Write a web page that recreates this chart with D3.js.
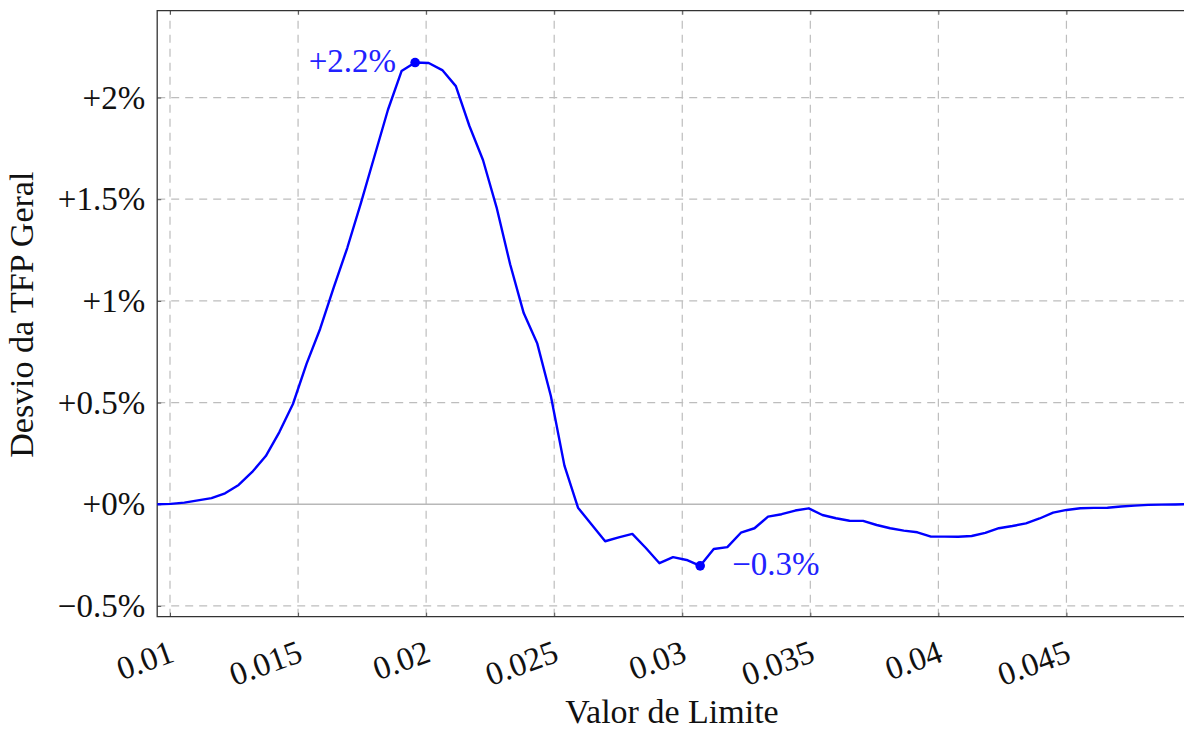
<!DOCTYPE html>
<html>
<head>
<meta charset="utf-8">
<script src="https://cdn.jsdelivr.net/npm/d3@7"></script>
<style>
  body { margin: 0; background: #fff; }
  svg { display: block; }
</style>
</head>
<body>
<svg width="1184" height="731"></svg>
<script>
// threshold values (x) and TFP deviation in % (y)
var limite = [0.0095, 0.01003, 0.01056, 0.01109, 0.01162, 0.01215, 0.01268, 0.01321, 0.01374, 0.01427,
    0.0148, 0.01533, 0.01586, 0.01639, 0.01692, 0.01745, 0.01798, 0.01851, 0.01904, 0.01957,
    0.0201, 0.02063, 0.02116, 0.02169, 0.02222, 0.02275, 0.02328, 0.02381, 0.02434, 0.02487,
    0.0254, 0.02593, 0.02646, 0.02699, 0.02752, 0.02805, 0.02858, 0.02911, 0.02964, 0.03017,
    0.0307, 0.03123, 0.03176, 0.03229, 0.03282, 0.03335, 0.03388, 0.03441, 0.03494, 0.03547,
    0.036, 0.03653, 0.03706, 0.03759, 0.03812, 0.03865, 0.03918, 0.03971, 0.04024, 0.04077,
    0.0413, 0.04183, 0.04236, 0.04289, 0.04342, 0.04395, 0.04448, 0.04501, 0.04554, 0.04607,
    0.0466, 0.04713, 0.04766, 0.04819, 0.04872, 0.04925, 0.04978];

var desvio = [0.000, 0.002, 0.008, 0.019, 0.030, 0.054, 0.095, 0.159, 0.237, 0.355,
    0.493, 0.690, 0.862, 1.065, 1.260, 1.480, 1.710, 1.940, 2.130, 2.172,
    2.170, 2.135, 2.056, 1.860, 1.693, 1.460, 1.180, 0.940, 0.790, 0.532,
    0.190, -0.017, -0.100, -0.182, -0.163, -0.146, -0.215, -0.290, -0.260, -0.274,
    -0.303, -0.220, -0.211, -0.140, -0.118, -0.061, -0.049, -0.031, -0.020, -0.053,
    -0.069, -0.081, -0.082, -0.102, -0.118, -0.130, -0.138, -0.159, -0.159, -0.160,
    -0.156, -0.141, -0.118, -0.107, -0.094, -0.070, -0.041, -0.028, -0.020, -0.018,
    -0.017, -0.011, -0.007, -0.003, -0.002, -0.001, 0.000];

var xTicks = [0.01, 0.015, 0.02, 0.025, 0.03, 0.035, 0.04, 0.045];
var xTickLabels = ["0.01", "0.015", "0.02", "0.025", "0.03", "0.035", "0.04", "0.045"];
var yTicks = [-0.5, 0, 0.5, 1, 1.5, 2];
var yTickLabels = ["\u22120.5%", "+0%", "+0.5%", "+1%", "+1.5%", "+2%"];

// marked points: [x, y, label]
var marcas = [
    [0.01957, 2.172, "+2.2%"],
    [0.0307, -0.303, "\u22120.3%"]
];

var svg = d3.select("svg");

// plot box (note: "top" is a reserved window property, so p-prefixed names)
var pLeft = 157.2, pRight = 1184, pTop = 10.7, pBottom = 616.7;
var font = "'Liberation Serif', 'DejaVu Serif', serif";
var fs = 33;

var x = d3.scaleLinear()
    .domain([0.0095, 0.04959])
    .range([pLeft, pRight]);

var y = d3.scaleLinear()
    .domain([-0.553, 2.427])
    .range([pBottom, pTop]);

svg.append("defs").append("clipPath")
    .attr("id", "clip")
    .append("rect")
    .attr("x", pLeft)
    .attr("y", pTop)
    .attr("width", pRight - pLeft)
    .attr("height", pBottom - pTop);

// grid
var grid = svg.append("g")
    .attr("stroke", "#bdbdbd")
    .attr("stroke-width", 1.2)
    .attr("stroke-dasharray", "8,6");

grid.selectAll(".vg")
    .data(xTicks)
    .enter().append("line")
    .attr("x1", function(d) { return x(d); })
    .attr("x2", function(d) { return x(d); })
    .attr("y1", pBottom)
    .attr("y2", pTop);

grid.selectAll(".hg")
    .data(yTicks.filter(function(d) { return d !== 0; }))
    .enter().append("line")
    .attr("x1", pLeft)
    .attr("x2", pRight)
    .attr("y1", function(d) { return y(d); })
    .attr("y2", function(d) { return y(d); });

// zero line
svg.append("line")
    .attr("x1", pLeft)
    .attr("x2", pRight)
    .attr("y1", y(0))
    .attr("y2", y(0))
    .attr("stroke", "#b8b8b8")
    .attr("stroke-width", 1.3);

// axes
var xAxis = d3.axisBottom(x)
    .tickValues(xTicks)
    .tickSize(-4)
    .tickFormat(function(d, i) { return xTickLabels[i]; });

var gx = svg.append("g")
    .attr("transform", "translate(0," + pBottom + ")")
    .attr("font-family", font)
    .call(xAxis);

gx.select(".domain").remove();
gx.selectAll(".tick line").attr("stroke", "#555");
gx.selectAll(".tick text")
    .attr("font-family", font)
    .attr("font-size", fs)
    .attr("fill", "#111")
    .attr("text-anchor", "end")
    .attr("dy", null)
    .attr("y", null)
    .attr("dominant-baseline", "middle")
    .attr("transform", "translate(3,37) rotate(-20)");

var gxTop = svg.append("g")
    .attr("transform", "translate(0," + pTop + ")")
    .call(d3.axisTop(x).tickValues(xTicks).tickSize(-4).tickFormat(""));
gxTop.select(".domain").remove();
gxTop.selectAll(".tick line").attr("stroke", "#555");

var yAxis = d3.axisLeft(y)
    .tickValues(yTicks)
    .tickSize(-4)
    .tickFormat(function(d, i) { return yTickLabels[i]; });

var gy = svg.append("g")
    .attr("transform", "translate(" + pLeft + ",0)")
    .attr("font-family", font)
    .call(yAxis);

gy.select(".domain").remove();
gy.selectAll(".tick line").attr("stroke", "#555");
gy.selectAll(".tick text")
    .attr("font-family", font)
    .attr("font-size", fs)
    .attr("fill", "#111")
    .attr("x", -12);

// frame: left, bottom, top
svg.append("path")
    .attr("d", "M" + pRight + "," + pTop + "H" + pLeft + "V" + pBottom + "H" + pRight)
    .attr("fill", "none")
    .attr("stroke", "#333")
    .attr("stroke-width", 1.3);

// the curve
var line = d3.line()
    .x(function(d) { return x(d[0]); })
    .y(function(d) { return y(d[1]); });

svg.append("path")
    .datum(d3.zip(limite, desvio))
    .attr("clip-path", "url(#clip)")
    .attr("d", line)
    .attr("fill", "none")
    .attr("stroke", "#0000ff")
    .attr("stroke-width", 2.4)
    .attr("stroke-linejoin", "round");

// marked extremes
svg.selectAll(".marca")
    .data(marcas)
    .enter().append("circle")
    .attr("cx", function(d) { return x(d[0]); })
    .attr("cy", function(d) { return y(d[1]); })
    .attr("r", 4.8)
    .attr("fill", "#0000ff");

svg.append("text")
    .attr("x", x(marcas[0][0]) - 19)
    .attr("y", y(marcas[0][1]) + 2)
    .attr("text-anchor", "end")
    .attr("dominant-baseline", "middle")
    .attr("font-family", font)
    .attr("font-size", fs)
    .attr("fill", "#2222ff")
    .text(marcas[0][2]);

svg.append("text")
    .attr("x", x(marcas[1][0]) + 32)
    .attr("y", y(marcas[1][1]) + 2)
    .attr("text-anchor", "start")
    .attr("dominant-baseline", "middle")
    .attr("font-family", font)
    .attr("font-size", fs)
    .attr("fill", "#2222ff")
    .text(marcas[1][2]);

// axis titles
svg.append("text")
    .attr("x", 672)
    .attr("y", 723)
    .attr("text-anchor", "middle")
    .attr("font-family", font)
    .attr("font-size", 34)
    .attr("fill", "#111")
    .text("Valor de Limite");

svg.append("text")
    .attr("transform", "translate(33," + ((pBottom + pTop) / 2 + 1) + ") rotate(-90)")
    .attr("text-anchor", "middle")
    .attr("font-family", font)
    .attr("font-size", 34)
    .attr("fill", "#111")
    .text("Desvio da TFP Geral");
</script>
</body>
</html>
